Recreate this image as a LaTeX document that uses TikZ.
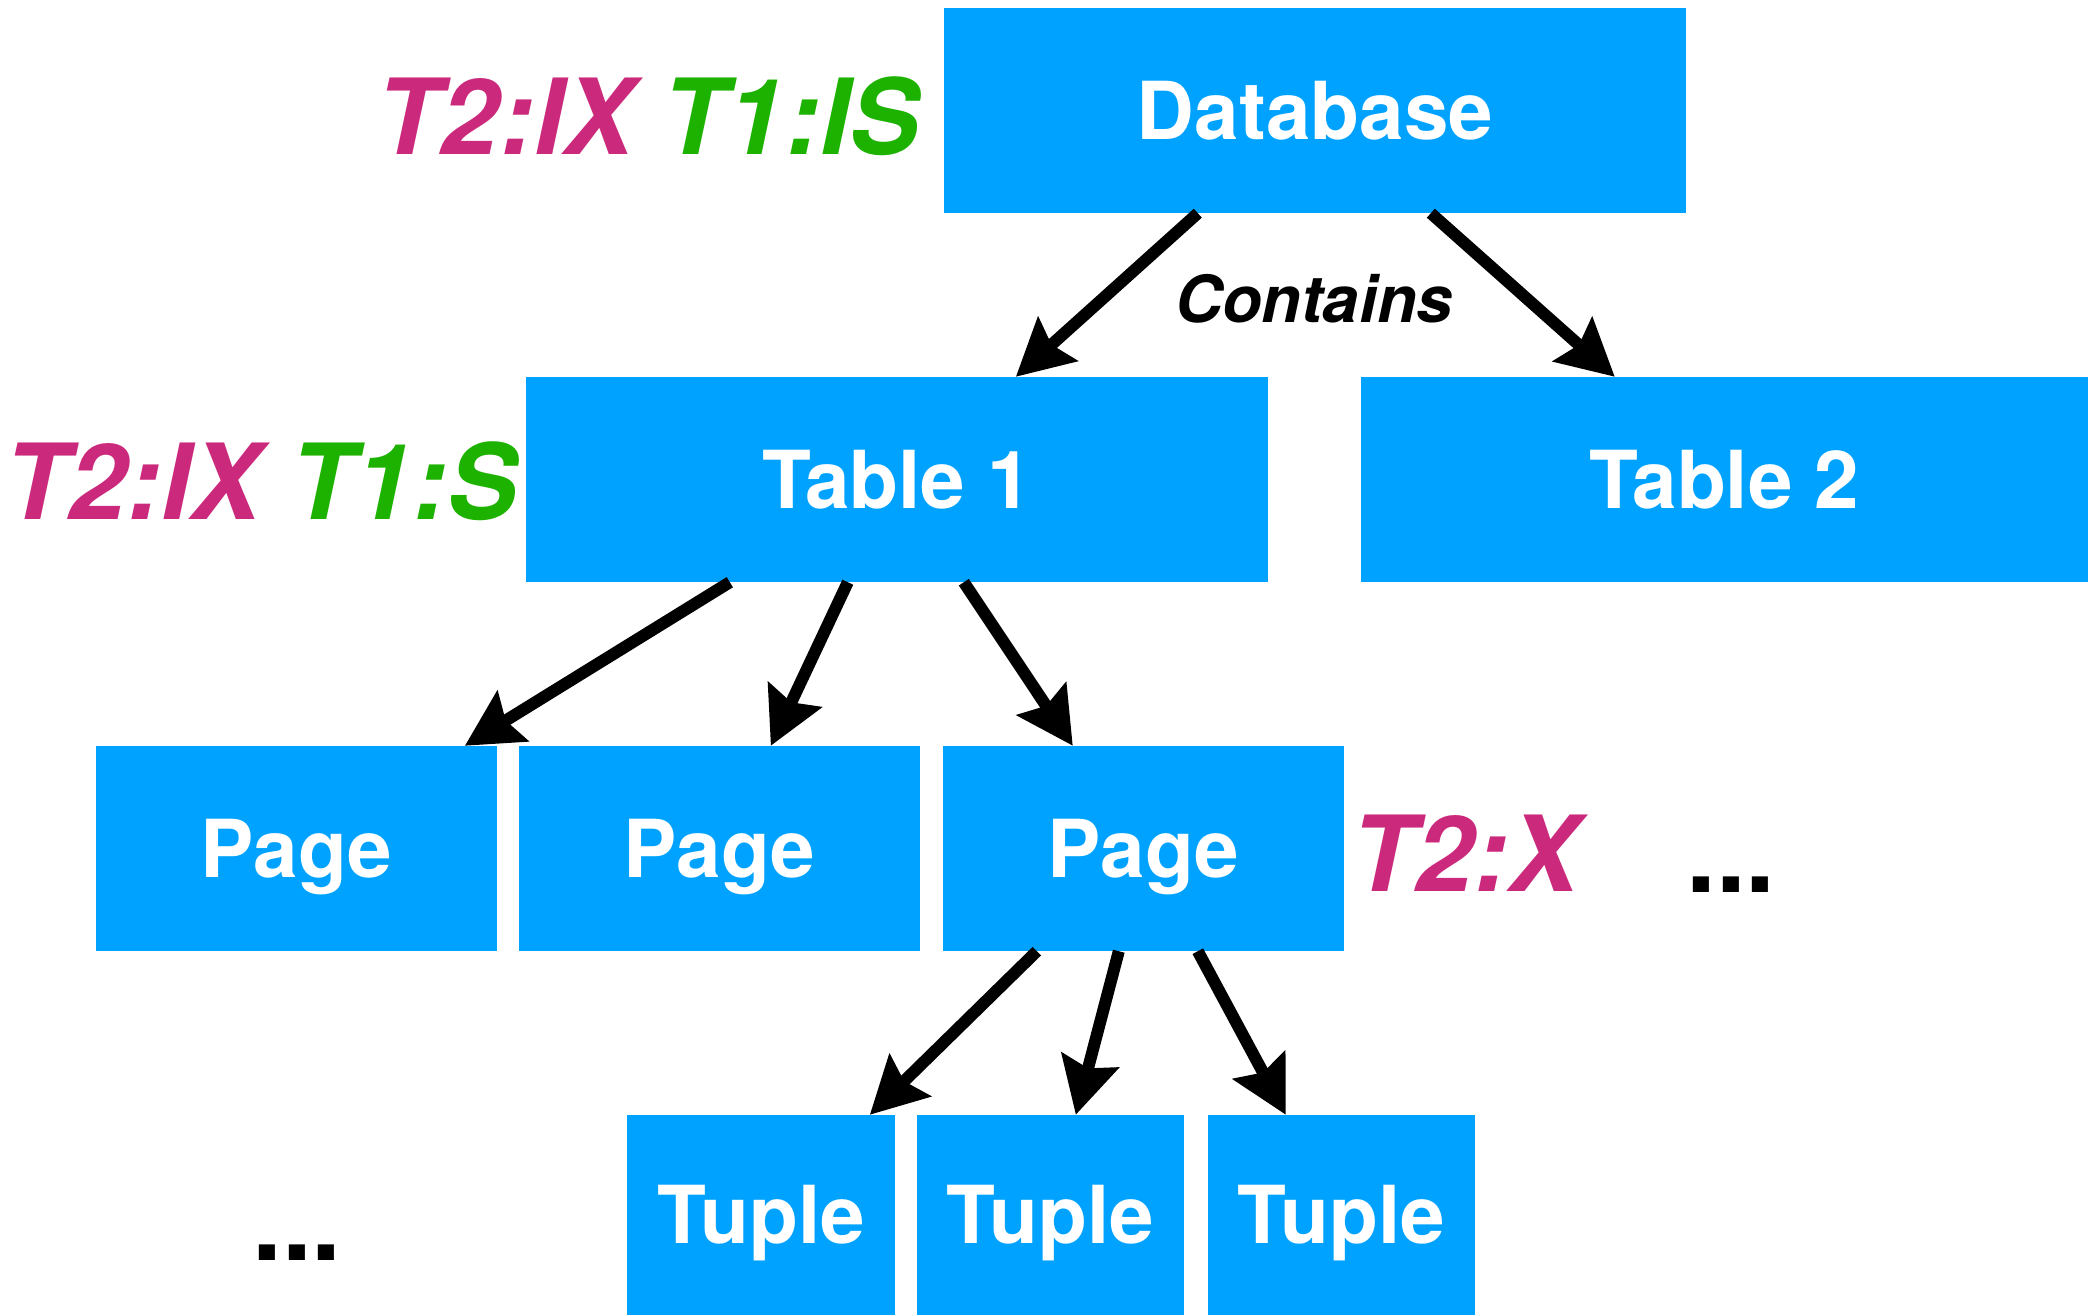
\documentclass[tikz,border=0pt]{standalone}
\usepackage{fontspec}
\setmainfont{TeX Gyre Heros}
\usetikzlibrary{arrows.meta}
\definecolor{boxblue}{HTML}{00A2FF}
\definecolor{lockmag}{HTML}{CB297B}
\definecolor{lockgreen}{HTML}{1DB100}
\begin{document}
\begin{tikzpicture}[x=1pt,y=-1pt,
  blk/.style={rectangle, fill=boxblue, draw=none, inner sep=0pt, text=white,
    font=\fontsize{80}{82}\selectfont\bfseries, text height=57pt, text depth=0pt},
  arr/.style={line width=12pt, -{Stealth[length=56pt,width=58pt,inset=8pt]}},
  lbl/.style={inner sep=0pt, anchor=base, font=\fontsize{105}{110}\selectfont\bfseries\itshape}]
\useasboundingbox (0,0) rectangle (2088,1315);
% boxes
\node[blk, minimum width=742pt, minimum height=205pt] (db) at (1315,110.5) {Database};
\node[blk, minimum width=742pt, minimum height=205pt] (t1) at (897,479.5) {Table 1};
\node[blk, minimum width=727pt, minimum height=205pt] (t2) at (1724.5,479.5) {Table 2};
\node[blk, minimum width=401pt, minimum height=205pt] (p1) at (296.5,848.5) {Page};
\node[blk, minimum width=401pt, minimum height=205pt] (p2) at (719.5,848.5) {Page};
\node[blk, minimum width=401pt, minimum height=205pt] (p3) at (1143.5,848.5) {Page};
\node[blk, minimum width=268pt, minimum height=200pt] (u1) at (761,1215) {Tuple};
\node[blk, minimum width=267pt, minimum height=200pt] (u2) at (1050.5,1215) {Tuple};
\node[blk, minimum width=267pt, minimum height=200pt] (u3) at (1341.5,1215) {Tuple};
% labels
\node[lbl] (l1) at (648,154) {\textcolor{lockmag}{T2:IX} \textcolor{lockgreen}{T1:IS}};
\node[lbl] (l2) at (261,519) {\textcolor{lockmag}{T2:IX} \textcolor{lockgreen}{T1:S}};
\node[lbl, text=lockmag] (l3) at (1465,891) {T2:X};
\node[lbl, font=\fontsize{107}{112}\selectfont\bfseries] (d1) at (1731,892) {...};
\node[lbl, font=\fontsize{107}{112}\selectfont\bfseries] (d2) at (297,1260) {...};
\node[lbl, font=\fontsize{65}{70}\selectfont\bfseries\itshape] (cont) at (1314,322) {Contains};
% arrows
\draw[arr] ([xshift=254pt]db.south west) -- ([xshift=490pt]t1.north west);
\draw[arr] ([xshift=487pt]db.south west) -- ([xshift=254pt]t2.north west);
\draw[arr] ([xshift=204pt]t1.south west) -- ([xshift=369pt]p1.north west);
\draw[arr] ([xshift=322pt]t1.south west) -- ([xshift=252pt]p2.north west);
\draw[arr] ([xshift=438pt]t1.south west) -- ([xshift=130pt]p3.north west);
\draw[arr] ([xshift=94pt]p3.south west) -- ([xshift=243pt]u1.north west);
\draw[arr] ([xshift=176pt]p3.south west) -- ([xshift=159pt]u2.north west);
\draw[arr] ([xshift=255pt]p3.south west) -- ([xshift=78pt]u3.north west);
\end{tikzpicture}
\end{document}
